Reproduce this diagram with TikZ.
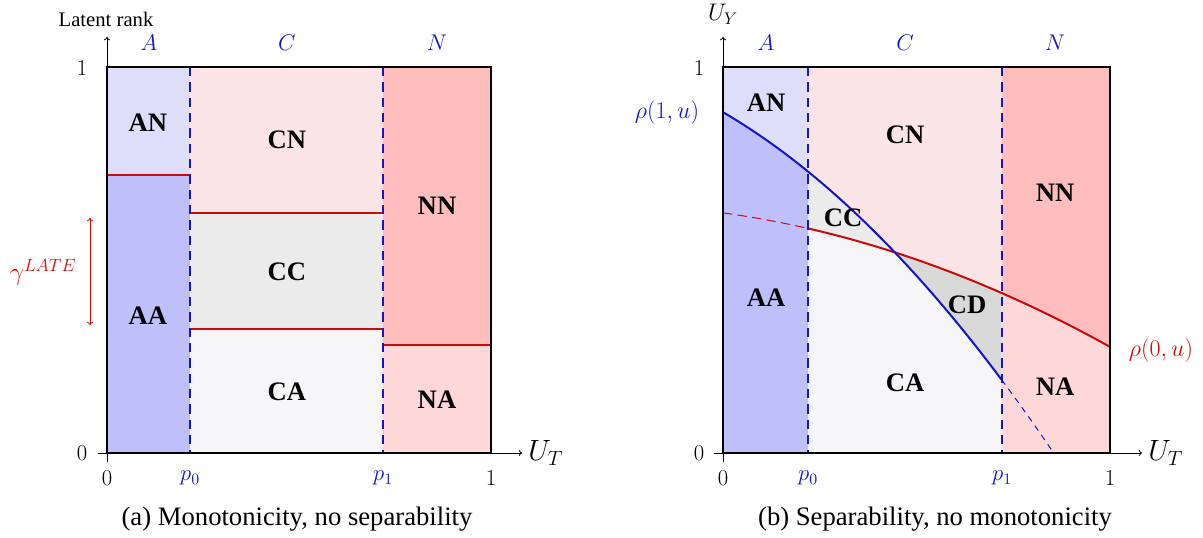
\RequirePackage{fix-cm}
\documentclass[tikz,border=0pt]{standalone}
\usepackage[no-math]{fontspec}
\setmainfont{Liberation Serif}
\usetikzlibrary{positioning}

\definecolor{lineblue}{RGB}{20,20,200}
\definecolor{linered}{RGB}{205,10,10}
\definecolor{fillAN}{RGB}{222,222,250}
\definecolor{fillAA}{RGB}{191,191,251}
\definecolor{fillCN}{RGB}{251,229,231}
\definecolor{fillCC}{RGB}{235,235,235}
\definecolor{fillCD}{RGB}{217,217,217}
\definecolor{fillCA}{RGB}{246,246,248}
\definecolor{fillNN}{RGB}{254,190,190}
\definecolor{fillNA}{RGB}{254,215,217}

\tikzset{every picture/.style={line width=0.75pt}}
\tikzset{
  regionlabel/.style={font=\fontsize{20}{23}\selectfont\bfseries},
  ticklabel/.style={font=\fontsize{17}{20}\selectfont},
  grouplabel/.style={ticklabel, text=lineblue},
  axislabel/.style={font=\fontsize{22}{25}\selectfont},
  captionlabel/.style={font=\fontsize{20}{24}\selectfont},
  divider/.style={lineblue, line width=1.5pt, dash pattern=on 7pt off 4.5pt},
  cutline/.style={linered, line width=1.5pt},
  boxframe/.style={line width=1.5pt},
}

\begin{document}
\begin{tikzpicture}[x=0.75pt,y=0.75pt,yscale=-1,xscale=1,
    declare function={rone(\u)=0.883-0.585*\u-0.525*\u*\u; rzero(\u)=0.622-0.137*\u-0.21*\u*\u;}]
        \useasboundingbox (0,0) rectangle (1203,537);

        % (a) monotonicity, no separability
        \fill[fillAN] (107,67) rectangle (190,175);
        \fill[fillAA] (107,175) rectangle (190,453);
        \fill[fillCN] (190,67) rectangle (383,213);
        \fill[fillCC] (190,213) rectangle (383,329);
        \fill[fillCA] (190,329) rectangle (383,453);
        \fill[fillNN] (383,67) rectangle (491,345);
        \fill[fillNA] (383,345) rectangle (491,453);
        \draw[cutline] (107,175) -- (190,175);
        \draw[cutline] (190,213) -- (383,213);
        \draw[cutline] (190,329) -- (383,329);
        \draw[cutline] (383,345) -- (491,345);
        \draw[divider] (190,67) -- (190,453);
        \draw[divider] (383,67) -- (383,453);

        \coordinate (ax0) at (98,453);
        \coordinate (ax1) at (522,453);
        \coordinate (ay0) at (107,462);
        \coordinate (ay1) at (107,37);
        \draw[->] (ax0) -- (ax1);
        \draw[->] (ay0) -- (ay1);
        \draw[boxframe] (107,67) rectangle (491,453);

        \node[axislabel, right=1pt of ax1] (aUT) {$U_T$};
        \node[font=\fontsize{15.5}{18}\selectfont] (alatent) at (106,19) {Latent rank};
        \node[ticklabel] (ay1lab) at (82,68) {$1$};
        \node[ticklabel] (ay0lab) at (82,453) {$0$};
        \node[ticklabel] (ax0lab) at (107,478) {$0$};
        \node[grouplabel] (ap0) at (190,478) {$p_0$};
        \node[grouplabel] (ap1) at (383,478) {$p_1$};
        \node[ticklabel] (ax1lab) at (491,478) {$1$};
        \node[grouplabel] (aA) at (149,43) {$A$};
        \node[grouplabel] (aC) at (287,43) {$C$};
        \node[grouplabel] (aN) at (437,43) {$N$};

        \node[regionlabel] (aAN) at (148,123) {AN};
        \node[regionlabel] (aAA) at (148,316) {AA};
        \node[regionlabel] (aCN) at (287,140) {CN};
        \node[regionlabel] (aCC) at (287,272) {CC};
        \node[regionlabel] (aCA) at (287,392) {CA};
        \node[regionlabel] (aNN) at (437,206) {NN};
        \node[regionlabel] (aNA) at (437,400) {NA};

        \coordinate (gtop) at (90,218);
        \coordinate (gbot) at (90,325);
        \draw[linered, <->] (gtop) -- (gbot);
        \node[font=\fontsize{19}{22}\selectfont, text=linered] (glate) at (43,272) {$\gamma^{LATE}$};

        \node[captionlabel] (acap) at (297,519) {(a) Monotonicity, no separability};

        % (b) separability, no monotonicity
        \fill[fillAN] (723,67) rectangle (808.14,453);
        \fill[fillAA] (723,453) -- plot[domain=0:0.22,samples=20] ({723+387*\x},{453-386*rone(\x)}) -- (808.14,453) -- cycle;
        \fill[fillCN] (808.14,67) rectangle (1001.64,453);
        \fill[fillCC] (808.14,453) -- plot[domain=0.22:0.444,samples=20] ({723+387*\x},{453-386*rone(\x)}) -- (894.8,453) -- cycle;
        \fill[fillCD] (894.8,453) -- plot[domain=0.444:0.72,samples=20] ({723+387*\x},{453-386*rzero(\x)}) -- (1001.64,453) -- cycle;
        \fill[fillCA] (808.14,453) -- plot[domain=0.22:0.444,samples=20] ({723+387*\x},{453-386*rzero(\x)})
            -- plot[domain=0.444:0.72,samples=20] ({723+387*\x},{453-386*rone(\x)}) -- (1001.64,453) -- cycle;
        \fill[fillNN] (1001.64,67) rectangle (1110,453);
        \fill[fillNA] (1001.64,453) -- plot[domain=0.72:1,samples=20] ({723+387*\x},{453-386*rzero(\x)}) -- (1110,453) -- cycle;

        \draw[linered, dash pattern=on 7pt off 4pt] plot[domain=0:0.22,samples=20] ({723+387*\x},{453-386*rzero(\x)});
        \draw[cutline] plot[domain=0.22:1,samples=40] ({723+387*\x},{453-386*rzero(\x)});
        \draw[lineblue, line width=1.5pt] plot[domain=0:0.72,samples=40] ({723+387*\x},{453-386*rone(\x)});
        \draw[lineblue, dash pattern=on 4.5pt off 4pt] plot[domain=0.72:0.854,samples=10] ({723+387*\x},{453-386*rone(\x)});
        \draw[divider] (808.14,67) -- (808.14,453);
        \draw[divider] (1001.64,67) -- (1001.64,453);

        \coordinate (bx0) at (714,453);
        \coordinate (bx1) at (1142,453);
        \coordinate (by0) at (723,462);
        \coordinate (by1) at (723,37);
        \draw[->] (bx0) -- (bx1);
        \draw[->] (by0) -- (by1);
        \draw[boxframe] (723,67) rectangle (1110,453);

        \node[axislabel, right=1pt of bx1] (bUT) {$U_T$};
        \node[font=\fontsize{18}{21}\selectfont] (bUY) at (723,14) {$U_Y$};
        \node[ticklabel] (by1lab) at (699,68) {$1$};
        \node[ticklabel] (by0lab) at (699,453) {$0$};
        \node[ticklabel] (bx0lab) at (723,478) {$0$};
        \node[grouplabel] (bp0) at (808,478) {$p_0$};
        \node[grouplabel] (bp1) at (1002,478) {$p_1$};
        \node[ticklabel] (bx1lab) at (1110,478) {$1$};
        \node[grouplabel] (bA) at (766,43) {$A$};
        \node[grouplabel] (bC) at (905,43) {$C$};
        \node[grouplabel] (bN) at (1055,43) {$N$};
        \node[grouplabel, font=\fontsize{18}{21}\selectfont] (brho1) at (667,112) {$\rho(1,u)$};
        \node[font=\fontsize{18}{21}\selectfont, text=linered] (brho0) at (1161,350) {$\rho(0,u)$};

        \node[regionlabel] (bAN) at (766,103) {AN};
        \node[regionlabel] (bAA) at (766,298) {AA};
        \node[regionlabel] (bCN) at (905,135) {CN};
        \node[regionlabel] (bCC) at (843,218) {CC};
        \node[regionlabel] (bCD) at (967,305) {CD};
        \node[regionlabel] (bCA) at (905,383) {CA};
        \node[regionlabel] (bNN) at (1055,193) {NN};
        \node[regionlabel] (bNA) at (1055,387) {NA};

        \node[captionlabel] (bcap) at (935,519) {(b) Separability, no monotonicity};
    \end{tikzpicture}
\end{document}
